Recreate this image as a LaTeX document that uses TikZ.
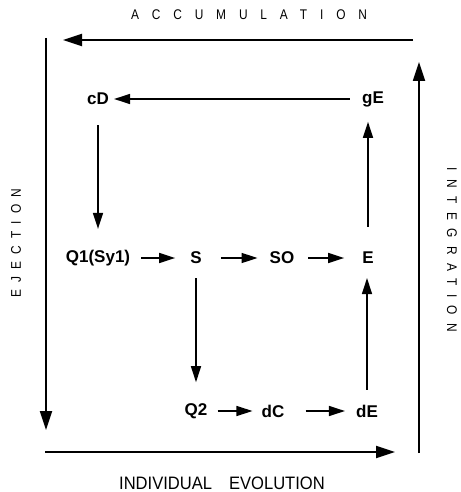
\documentclass[tikz,border=0pt]{standalone}
\usepackage{fontspec}
\setmainfont{Liberation Sans}
\usepackage{tikz}
\usetikzlibrary{arrows.meta}
\newfontfamily\spacedfont[FakeStretch=0.85]{Liberation Sans}
\newfontfamily\evofont[FakeStretch=0.92]{Liberation Sans}

\begin{document}
\begin{tikzpicture}[
  x=1pt,y=-1pt,
  state/.style={font=\fontsize{17}{17}\selectfont\bfseries,inner sep=0pt},
  side/.style={font=\fontsize{14}{14}\selectfont\spacedfont,inner sep=0pt},
  arrow/.style={-{Triangle[length=16pt,width=10pt]},line width=1.5pt},
  frame/.style={-{Triangle[length=19pt,width=12pt]},line width=1.8pt}
]
\useasboundingbox (0,0) rectangle (460,492);
% frame corners
\coordinate (accR) at (413,40);
\coordinate (accL) at (63,40);
\coordinate (ejT) at (46,38);
\coordinate (ejB) at (46,430);
\coordinate (evoL) at (45,452);
\coordinate (evoR) at (395,452);
\coordinate (intB) at (419,453);
\coordinate (intT) at (419,62);
% side labels
\node[side] (acc) at (249,15) {\addfontfeature{LetterSpace=92}ACCUMULATION};
\node[side,rotate=90] (ej) at (16,243) {\addfontfeature{LetterSpace=51}EJECTION};
\node[side,rotate=-90] (int) at (452,250) {\addfontfeature{LetterSpace=60}INTEGRATION};
\node[inner sep=0pt,font=\fontsize{18}{18}\selectfont\evofont] (evo) at (222,483) {INDIVIDUAL\hspace{17pt}EVOLUTION};
% states
\node[state] (cD) at (98,99) {cD};
\node[state] (gE) at (373,99) {gE};
\node[state] (Q1) at (98,258) {Q1(Sy1)};
\node[state] (S) at (196,258) {S};
\node[state] (SO) at (282,258) {SO};
\node[state] (E) at (368,258) {E};
\node[state] (Q2) at (196,411) {Q2};
\node[state] (dC) at (273,411) {dC};
\node[state] (dE) at (367,411) {dE};
% frame arrows
\draw[frame] (accR) -- (accL);
\draw[frame] (ejT) -- (ejB);
\draw[frame] (evoL) -- (evoR);
\draw[frame] (intB) -- (intT);
% flow
\draw[arrow,shorten <=12pt,shorten >=5pt] (gE) -- (cD);
\draw[arrow,shorten <=20pt,shorten >=21pt] (cD) -- (Q1);
\draw[arrow,shorten <=11pt,shorten >=15pt] (Q1) -- (S);
\draw[arrow,shorten <=19pt,shorten >=12pt] (S) -- (SO);
\draw[arrow,shorten <=14pt,shorten >=18pt] (SO) -- (E);
\draw[arrow,shorten <=14pt,shorten >=21pt] (S) -- (Q2);
\draw[arrow,shorten <=10pt,shorten >=9pt] (Q2) -- (dC);
\draw[arrow,shorten <=21pt,shorten >=11pt] (dC) -- (dE);
\draw[arrow,shorten <=15pt,shorten >=14pt] (dE.north) -- (dE.north |- E.south);
\draw[arrow,shorten <=25pt,shorten >=15pt] (E.north) -- (E.north |- gE.south);
\end{tikzpicture}
\end{document}
